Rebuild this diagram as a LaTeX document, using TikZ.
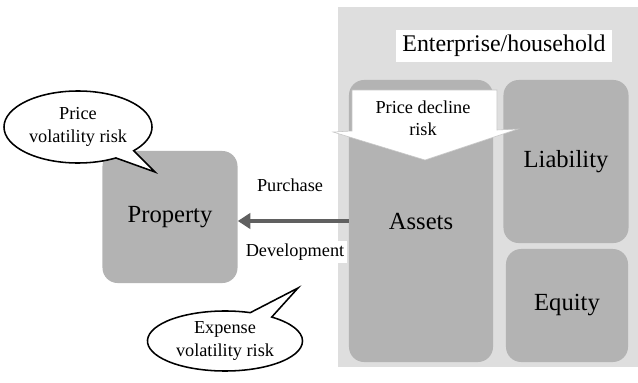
\documentclass[tikz,border=0pt]{standalone}
\usepackage{fontspec}
\setmainfont{Liberation Serif}
\usetikzlibrary{calc,positioning,arrows.meta,shapes.callouts,shapes.geometric}
\definecolor{bggray}{HTML}{DEDEDE}
\definecolor{boxgray}{HTML}{B3B3B3}
\definecolor{arrgray}{HTML}{606060}

\begin{document}
\begin{tikzpicture}[x=0.025cm,y=-0.025cm]
\tikzstyle{big}=[font=\fontsize{17.5}{21}\selectfont]
\tikzstyle{small}=[font=\fontsize{13}{16}\selectfont, align=center]
\tikzstyle{box}=[rectangle, rounded corners=0.38cm, fill=boxgray,
                 inner sep=0pt, big]
\tikzstyle{bubble}=[ellipse callout, draw=black, line width=1.1pt,
                    fill=white, inner sep=0pt, callout pointer arc=18, small]
\useasboundingbox (0,0) rectangle (638,382);

% enterprise / household balance sheet
\node[fill=bggray, minimum width=7.5cm, minimum height=9cm] (firm) at (488,187) {};
\node[fill=white, minimum width=5.375cm, minimum height=0.775cm,
      inner sep=0pt, font=\fontsize{17}{20}\selectfont] (firmlbl) at (504,46) {Enterprise/household};
\node[box, minimum width=3.6cm, minimum height=7.05cm] (assets) at (421,221) {Assets};
\node[box, minimum width=3.125cm, minimum height=4.075cm] (liab) at (566,161.5) {Liability};
\node[box, minimum width=3.05cm, minimum height=2.825cm] (equity) at (567,305.5) {Equity};

% price decline arrow
\coordinate (tip) at (425,160);
\draw[draw=gray!45, fill=white] (352,90) -- (497,90) -- (497,130) -- (518,129)
      -- (tip) -- (333,132) -- (352,131) -- cycle;
\node[small] (pdr) at (423,118) {Price decline\\risk};

% property
\node[box, minimum width=3.375cm, minimum height=3.3cm] (property) at (170,217) {Property};
\draw[line width=2.5pt, arrgray, -{Triangle[length=9pt,width=11pt]}]
      (assets.west) -- (assets.west -| property.east);
\node[small] (buy) at (290,185) {Purchase};
\node[small, fill=white, inner sep=2pt] (dev) at (295,252) {Development};

% risks
\node[bubble, minimum width=3.7cm, minimum height=1.8cm,
      callout absolute pointer={(155,172)}] (pvr) at (78,127) {Price\\volatility risk};
\node[bubble, minimum width=3.875cm, minimum height=1.5cm,
      callout absolute pointer={(298,288)}] (evr) at (225,341) {Expense\\volatility risk};

\end{tikzpicture}
\end{document}
